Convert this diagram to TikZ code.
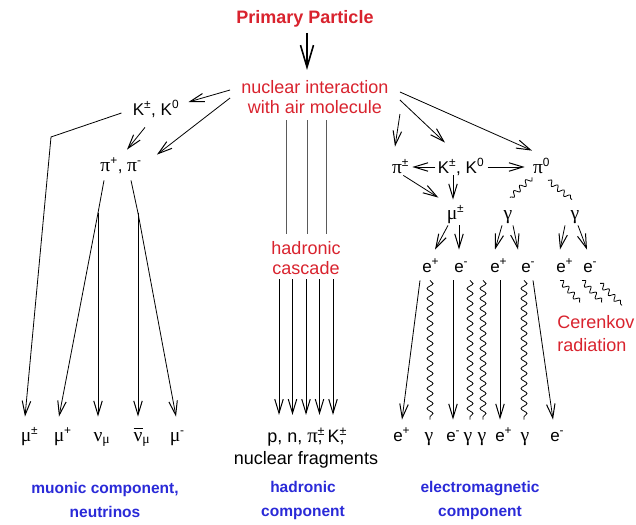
\documentclass[tikz,border=0pt]{standalone}
\usepackage{fontspec}
\setmainfont{Liberation Sans}
\newfontfamily\grk[Scale=1.15]{Liberation Serif}
\usetikzlibrary{arrows.meta, calc, decorations.pathmorphing}
\definecolor{cred}{HTML}{D9232E}
\definecolor{cblue}{HTML}{2A2AD8}
\definecolor{cgrey}{HTML}{5A5A5A}
\newcommand{\gpi}{{\grk π}}
\newcommand{\gmu}{{\grk μ}}
\newcommand{\gnu}{{\grk ν}}
\newcommand{\ggam}{{\grk γ}}
\newcommand{\hsup}[1]{\rlap{\textsuperscript{#1}}}
\newcommand{\hsub}[1]{\rlap{\textsubscript{#1}}}
\newcommand{\barnu}{\rlap{\raisebox{12pt}{\rule{9.5pt}{0.7pt}}}\gnu}
\tikzset{
  every picture/.style={x=1pt, y=-1pt, line width=0.8pt},
  lab/.style={font=\fontsize{18}{20}\selectfont, text=cred, align=#1, inner sep=1pt},
  lab/.default=center,
  title/.style={lab, font=\fontsize{18}{20}\selectfont\bfseries},
  part/.style={font=\fontsize{17}{20}\selectfont, inner sep=1pt, text height=12pt, text depth=4pt},
  comp/.style={font=\fontsize{15.5}{24}\selectfont\bfseries, text=cblue, align=center, inner sep=1pt},
  arr/.style={-{Straight Barb[length=14pt, width=8.5pt, line width=1pt]}},
  bigarr/.style={-{Straight Barb[length=22pt, width=13pt]}, line width=1.6pt},
  hline/.style={draw=cgrey},
  wave/.style={decorate, decoration={snake, amplitude=3pt, segment length=10pt}},
  swave/.style={decorate, decoration={snake, amplitude=2.6pt, segment length=8pt}},
}
\begin{document}
\begin{tikzpicture}
  \path[fill=white] (0,0) rectangle (636,524);
  % top: primary particle hits the air
  \node[title] (prim) at (305,19) {Primary Particle};
  \node[lab] (nuc) at (315,97) {nuclear interaction\\with air molecule};
  \draw[bigarr] ([xshift=2pt,yshift=-4pt]prim.south) -- ([xshift=-8pt,yshift=9pt]nuc.north);
  % left branch: kaons, pions, muons and neutrinos
  \node[part] (kl) at (156,111) {K\textsuperscript{±}, K\textsuperscript{0}};
  \node[part] (pil) at (121,167) {\gpi\textsuperscript{+}, \gpi\textsuperscript{-}};
  \node[part] (mupm) at (26,437) {\gmu\hsup{±}};
  \node[part] (mup) at (59,437) {\gmu\hsup{+}};
  \node[part] (num) at (98,437) {\gnu\hsub{\gmu}};
  \node[part] (nubm) at (138,437) {\barnu\hsub{\gmu}};
  \node[part] (mum) at (175,437) {\gmu\hsup{-}};
  \coordinate (kbend) at (51,137);
  \coordinate (pl) at (98,213);
  \coordinate (pr) at (138,213);
  \draw[arr] ([xshift=-10pt,yshift=7pt]nuc.west) -- ([xshift=8pt,yshift=9pt]kl.east);
  \draw[arr] ([xshift=-10pt,yshift=-1pt]nuc.west) -- ([xshift=14pt,yshift=3pt]pil.north east);
  \draw[arr] ([xshift=-11pt,yshift=-7pt]kl.south) -- ([xshift=6pt,yshift=8pt]pil.north);
  \draw[arr] ([xshift=-10pt,yshift=-2pt]kl.west) -- (kbend) -- ([xshift=-1pt,yshift=11pt]mupm.north);
  \draw ([xshift=-17pt,yshift=-4pt]pil.south) -- (pl);
  \draw[arr] (pl) -- ([yshift=11pt]mup.north);
  \draw[arr] (pl) -- ([yshift=11pt]num.north);
  \draw ([xshift=10pt,yshift=-4pt]pil.south) -- (pr);
  \draw[arr] (pr) -- ([yshift=11pt]nubm.north);
  \draw[arr] (pr) -- ([xshift=1pt,yshift=11pt]mum.north);
  % middle branch: hadronic cascade
  \node[lab] (hcas) at (306,258) {hadronic\\cascade};
  \node[part, align=center, font=\fontsize{18}{22}\selectfont, text height=, text depth=] (frag) at (306,448)
    {p, n, \gpi\hsup{±}, K\hsup{±},\\nuclear fragments};
  \draw[hline] ([xshift=-29pt,yshift=-5pt]nuc.south) -- ([xshift=-20pt,yshift=6pt]hcas.north);
  \draw[hline] ([xshift=-8pt,yshift=-5pt]nuc.south) -- ([xshift=1pt,yshift=6pt]hcas.north);
  \draw[hline] ([xshift=11pt,yshift=-5pt]nuc.south) -- ([xshift=20pt,yshift=6pt]hcas.north);
  \draw[arr] ([xshift=-27pt,yshift=-3pt]hcas.south) -- ([xshift=-27pt,yshift=12pt]frag.north);
  \draw[arr] ([xshift=-13.5pt,yshift=-3pt]hcas.south) -- ([xshift=-13.5pt,yshift=12pt]frag.north);
  \draw[arr] ([yshift=-3pt]hcas.south) -- ([yshift=12pt]frag.north);
  \draw[arr] ([xshift=13.5pt,yshift=-3pt]hcas.south) -- ([xshift=13.5pt,yshift=12pt]frag.north);
  \draw[arr] ([xshift=27pt,yshift=-3pt]hcas.south) -- ([xshift=27pt,yshift=12pt]frag.north);
  % right branch: electromagnetic part
  \node[part] (pir) at (397,169) {\gpi\hsup{±}};
  \node[part] (kr) at (461,169) {K\textsuperscript{±}, K\textsuperscript{0}};
  \node[part] (pi0) at (538,169) {\gpi\hsup{0}};
  \node[part] (mur) at (452,215) {\gmu\hsup{±}};
  \node[part] (gl) at (508,215) {\ggam};
  \node[part] (gr) at (575,215) {\ggam};
  \draw[arr] ([xshift=10pt,yshift=1pt]nuc.south east) -- ([xshift=-2pt,yshift=13pt]pir.north);
  \draw[arr] ([xshift=10pt,yshift=-3pt]nuc.east) -- ([xshift=-16pt,yshift=17pt]kr.north);
  \draw[arr] ([xshift=10pt,yshift=5pt]nuc.east) -- ([xshift=-6pt,yshift=9pt]pi0.north);
  \draw[arr] ([xshift=-1pt,yshift=2pt]kr.west) -- ([xshift=9pt,yshift=2pt]pir.east);
  \draw[arr] ([xshift=2pt,yshift=2pt]kr.east) -- ([xshift=-7pt,yshift=2pt]pi0.west);
  \draw[arr] ([xshift=-8pt,yshift=3pt]kr.south) -- ([xshift=1pt,yshift=6pt]mur.north);
  \draw[arr] ([yshift=3pt]pir.south east) -- ([xshift=-7pt,yshift=8pt]mur.north west);
  \draw[swave] ([xshift=-6pt,yshift=1pt]pi0.south) -- ([xshift=2pt,yshift=8pt]gl.north);
  \draw[swave] ([xshift=10pt,yshift=-2pt]pi0.south) -- ([xshift=-3pt,yshift=6pt]gr.north);
  % electrons and positrons
  \node[part] (e1) at (427,268) {e\hsup{+}};
  \node[part] (e2) at (459,268) {e\hsup{-}};
  \node[part] (e3) at (495,268) {e\hsup{+}};
  \node[part] (e4) at (526,268) {e\hsup{-}};
  \node[part] (e5) at (561,268) {e\hsup{+}};
  \node[part] (e6) at (588,268) {e\hsup{-}};
  \draw[arr] ([xshift=-4pt,yshift=-1pt]mur.south) -- ([xshift=8pt,yshift=9pt]e1.north);
  \draw[arr] ([xshift=7pt,yshift=-1pt]mur.south) -- ([yshift=9pt]e2.north);
  \draw[arr] ([xshift=-6pt,yshift=-1pt]gl.south) -- ([yshift=9pt]e3.north);
  \draw[arr] ([xshift=5pt,yshift=-1pt]gl.south) -- ([xshift=-8pt,yshift=9pt]e4.north);
  \draw[arr] ([xshift=-10pt,yshift=-1pt]gr.south) -- ([xshift=-1pt,yshift=9pt]e5.north);
  \draw[arr] ([xshift=3pt,yshift=-1pt]gr.south) -- ([xshift=-1pt,yshift=9pt]e6.north);
  % bottom of the electromagnetic shower
  \node[part] (b1) at (398,437) {e\hsup{+}};
  \node[part] (b2) at (429,437) {\ggam};
  \node[part] (b3) at (451,437) {e\hsup{-}};
  \node[part] (b4) at (468,437) {\ggam};
  \node[part] (b5) at (482,437) {\ggam};
  \node[part] (b6) at (500,437) {e\hsup{+}};
  \node[part] (b7) at (525,437) {\ggam};
  \node[part] (b8) at (555,437) {e\hsup{-}};
  \draw[arr] ([xshift=-7pt,yshift=-3pt]e1.south) -- ([xshift=4pt,yshift=8pt]b1.north);
  \draw[wave] ([xshift=3pt,yshift=-3pt]e1.south) -- ([xshift=1pt,yshift=8pt]b2.north);
  \draw[arr] ([xshift=-6pt,yshift=-3pt]e2.south) -- ([xshift=2pt,yshift=8pt]b3.north);
  \draw[wave] ([xshift=11pt,yshift=-3pt]e2.south) -- ([xshift=2pt,yshift=8pt]b4.north);
  \draw[wave] ([xshift=-12pt,yshift=-3pt]e3.south) -- ([xshift=1pt,yshift=8pt]b5.north);
  \draw[arr] ([xshift=5pt,yshift=-3pt]e3.south) -- ([yshift=8pt]b6.north);
  \draw[wave] ([xshift=-2pt,yshift=-3pt]e4.south) -- ([xshift=-1pt,yshift=8pt]b7.north);
  \draw[arr] ([xshift=7pt,yshift=-3pt]e4.south) -- ([xshift=-2pt,yshift=8pt]b8.north);
  % Cerenkov light
  \draw[swave] ([xshift=-1pt,yshift=-3pt]e5.south) -- ++(20,22);
  \draw[swave] ([xshift=-6pt,yshift=-3pt]e6.south) -- ++(20,22);
  \draw[swave] ([xshift=12pt,yshift=-6pt]e6.south) -- ++(22,22);
  \node[lab=left, font=\fontsize{18}{23}\selectfont, anchor=west] (cer) at (556,334) {Cerenkov\\radiation};
  % component names
  \node[comp] (cmu) at (105,500) {muonic component,\\neutrinos};
  \node[comp] (chad) at (303,500) {hadronic\\component};
  \node[comp] (cem) at (480,500) {electromagnetic\\component};
\end{tikzpicture}
\end{document}
